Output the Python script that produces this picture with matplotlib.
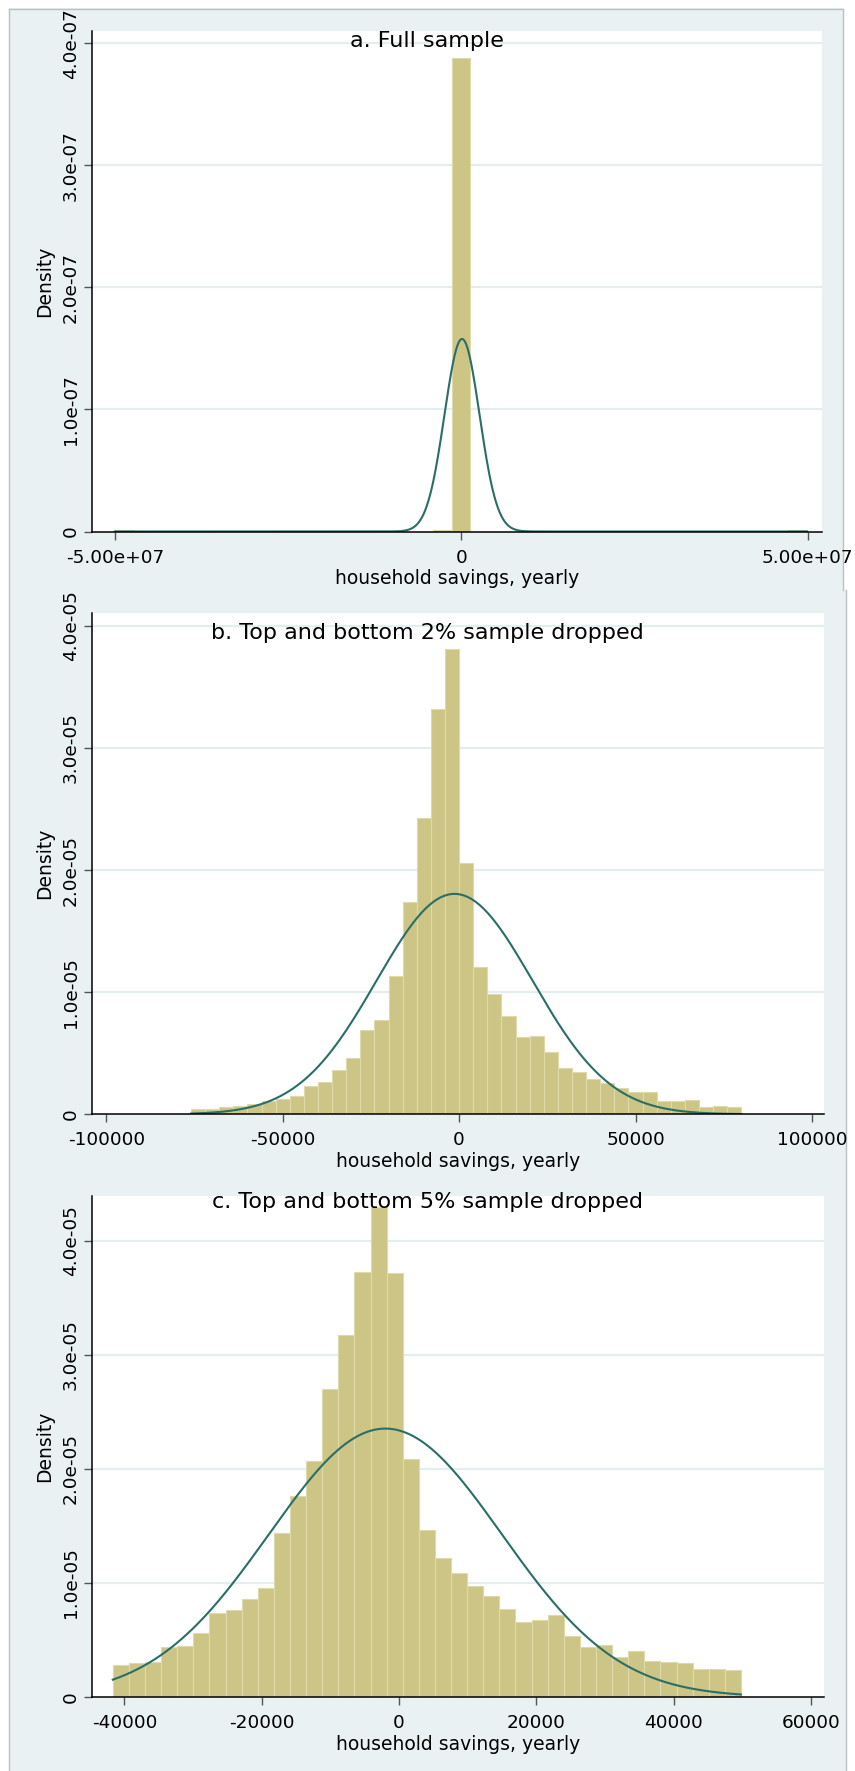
import numpy as np
import matplotlib.pyplot as plt
from matplotlib.patches import Rectangle
from matplotlib.lines import Line2D

plt.rcParams['font.family'] = 'DejaVu Sans'

W, H = 855, 1771

# a. full sample: 37 bins of 2.7e6, density (x 1e-7)
a_start = -5.0e7
a_width = 2.7e6
a_heights = [0.012, 0, 0, 0, 0, 0, 0, 0, 0, 0, 0, 0, 0, 0, 0, 0, 0, 0.012, 3.88,
             0, 0, 0, 0, 0, 0, 0, 0, 0, 0, 0, 0, 0, 0, 0, 0, 0, 0.012]
a_mean, a_sd = 1.0e5, 2.53e6
a_xticks = [-5.0e7, 0, 5.0e7]
a_xticklabels = ['-5.00e+07', '0', '5.00e+07']
a_yticklabels = ['0', '1.0e-07', '2.0e-07', '3.0e-07', '4.0e-07']

# b. top and bottom 2% dropped: 39 bins of 4000, density (x 1e-5)
b_start = -76000
b_width = 4000
b_heights = [0.044, 0.044, 0.060, 0.068, 0.087, 0.107, 0.123, 0.147, 0.235, 0.262,
             0.366, 0.459, 0.688, 0.773, 1.130, 1.737, 2.425, 3.317, 3.809, 2.061,
             1.210, 0.983, 0.805, 0.631, 0.644, 0.508, 0.382, 0.349, 0.287, 0.254,
             0.216, 0.186, 0.186, 0.109, 0.109, 0.117, 0.057, 0.068, 0.057]
b_mean, b_sd = -1300, 22100
b_xticks = [-100000, -50000, 0, 50000, 100000]
b_xticklabels = ['-100000', '-50000', '0', '50000', '100000']
b_yticklabels = ['0', '1.0e-05', '2.0e-05', '3.0e-05', '4.0e-05']

# c. top and bottom 5% dropped: 39 bins of 2346, density (x 1e-5)
c_start = -41700
c_width = 2346
c_heights = [0.283, 0.295, 0.307, 0.441, 0.450, 0.561, 0.739, 0.765, 0.859, 0.952,
             1.440, 1.759, 2.065, 2.702, 3.176, 3.725, 4.292, 3.716, 2.083, 1.467,
             1.215, 1.084, 0.976, 0.882, 0.768, 0.660, 0.678, 0.716, 0.532, 0.441,
             0.453, 0.354, 0.406, 0.316, 0.307, 0.298, 0.242, 0.248, 0.234]
c_mean, c_sd = -2000, 16960
c_xticks = [-40000, -20000, 0, 20000, 40000, 60000]
c_xticklabels = ['-40000', '-20000', '0', '20000', '40000', '60000']
c_yticklabels = b_yticklabels

BG = '#E9F1F3'
BAR = '#CDC586'
BAR_EDGE = '#DFDAAA'
LINE = '#2B6E68'
GRID = '#E4EDF0'
BORDER = '#B9C0C3'


def fx(x):
    return x / W


def fy(y):
    return 1 - y / H


def draw_panel(fig, box, start, width, heights, scale, mean, sd, xlim, ylim,
               xticks, xticklabels, yticklabels, title, title_y):
    left, top, right, bottom = box
    ax = fig.add_axes([fx(left), fy(bottom), fx(right - left), (bottom - top) / H])
    ax.set_facecolor('white')

    heights = np.array(heights) * scale
    edges = start + width * np.arange(len(heights))
    ax.bar(edges, heights, width=width, align='edge', color=BAR,
           edgecolor=BAR_EDGE, linewidth=0.8, zorder=2)

    # fitted normal density over the data range
    xs = np.linspace(start, start + width * len(heights), 800)
    ys = np.exp(-0.5 * ((xs - mean) / sd) ** 2) / (sd * np.sqrt(2 * np.pi))
    ax.plot(xs, ys, color=LINE, lw=1.5, zorder=3)

    ax.set_xlim(*xlim)
    ax.set_ylim(*ylim)
    yticks = [i * scale for i in range(len(yticklabels))]
    ax.set_yticks(yticks)
    ax.set_yticklabels(yticklabels)
    ax.set_xticks(xticks)
    ax.set_xticklabels(xticklabels)
    for yt in yticks[1:]:
        ax.axhline(yt, color=GRID, lw=1.6, zorder=1)

    for s in ['top', 'right']:
        ax.spines[s].set_visible(False)
    for s in ['left', 'bottom']:
        ax.spines[s].set_color('black')
        ax.spines[s].set_linewidth(1.1)
        ax.spines[s].set_zorder(4)

    ax.tick_params(axis='both', length=5.8, width=1, color='#555555',
                   labelsize=13.3, labelcolor='black')
    ax.tick_params(axis='y', pad=2.5, labelrotation=90)
    ax.tick_params(axis='x', pad=6.5)
    for lab in ax.get_yticklabels():
        lab.set_va('center')

    fig.text(fx(45), fy((top + bottom) / 2), 'Density', rotation=90,
             ha='center', va='center', fontsize=13.5)
    fig.text(fx((left + right) / 2), fy(bottom + 47.5), 'household savings, yearly',
             ha='center', va='center', fontsize=13.5)
    fig.text(fx(427), fy(title_y), title, ha='center', va='baseline', fontsize=16)
    return ax


fig = plt.figure(figsize=(W / 100, H / 100), dpi=100)

# panel backgrounds, kept behind the axes
for (x0, y0, x1, y1) in [(9, 8.5, 843, 590), (9, 590, 846, 1170), (9, 1170, 846, 1771)]:
    fig.patches.append(Rectangle((fx(x0), fy(y1)), fx(x1 - x0), (y1 - y0) / H,
                                 transform=fig.transFigure, facecolor=BG,
                                 edgecolor='none', zorder=-10))
for (x0, y0, x1, y1) in [(9, 8.5, 843, 8.5), (9, 8.5, 9, 1771), (843, 8.5, 843, 590),
                         (846, 590, 846, 1771)]:
    fig.lines.append(Line2D([fx(x0), fx(x1)], [fy(y0), fy(y1)],
                            transform=fig.transFigure, color=BORDER, lw=1,
                            zorder=-9))

draw_panel(fig, (91.6, 30.5, 821.7, 531.5), a_start, a_width, a_heights, 1e-7,
           a_mean, a_sd, (-5.335e7, 5.2e7), (0, 4.103e-7),
           a_xticks, a_xticklabels, a_yticklabels, 'a. Full sample', 47)

draw_panel(fig, (91.6, 613.3, 824.4, 1114.3), b_start, b_width, b_heights, 1e-5,
           b_mean, b_sd, (-104170, 103540), (0, 4.103e-5),
           b_xticks, b_xticklabels, b_yticklabels,
           'b. Top and bottom 2% sample dropped', 639)

draw_panel(fig, (91.6, 1195.5, 824.4, 1697), c_start, c_width, c_heights, 1e-5,
           c_mean, c_sd, (-44790, 61950), (0, 4.395e-5),
           c_xticks, c_xticklabels, c_yticklabels,
           'c. Top and bottom 5% sample dropped', 1208)

fig.savefig('out.png', dpi=100)
